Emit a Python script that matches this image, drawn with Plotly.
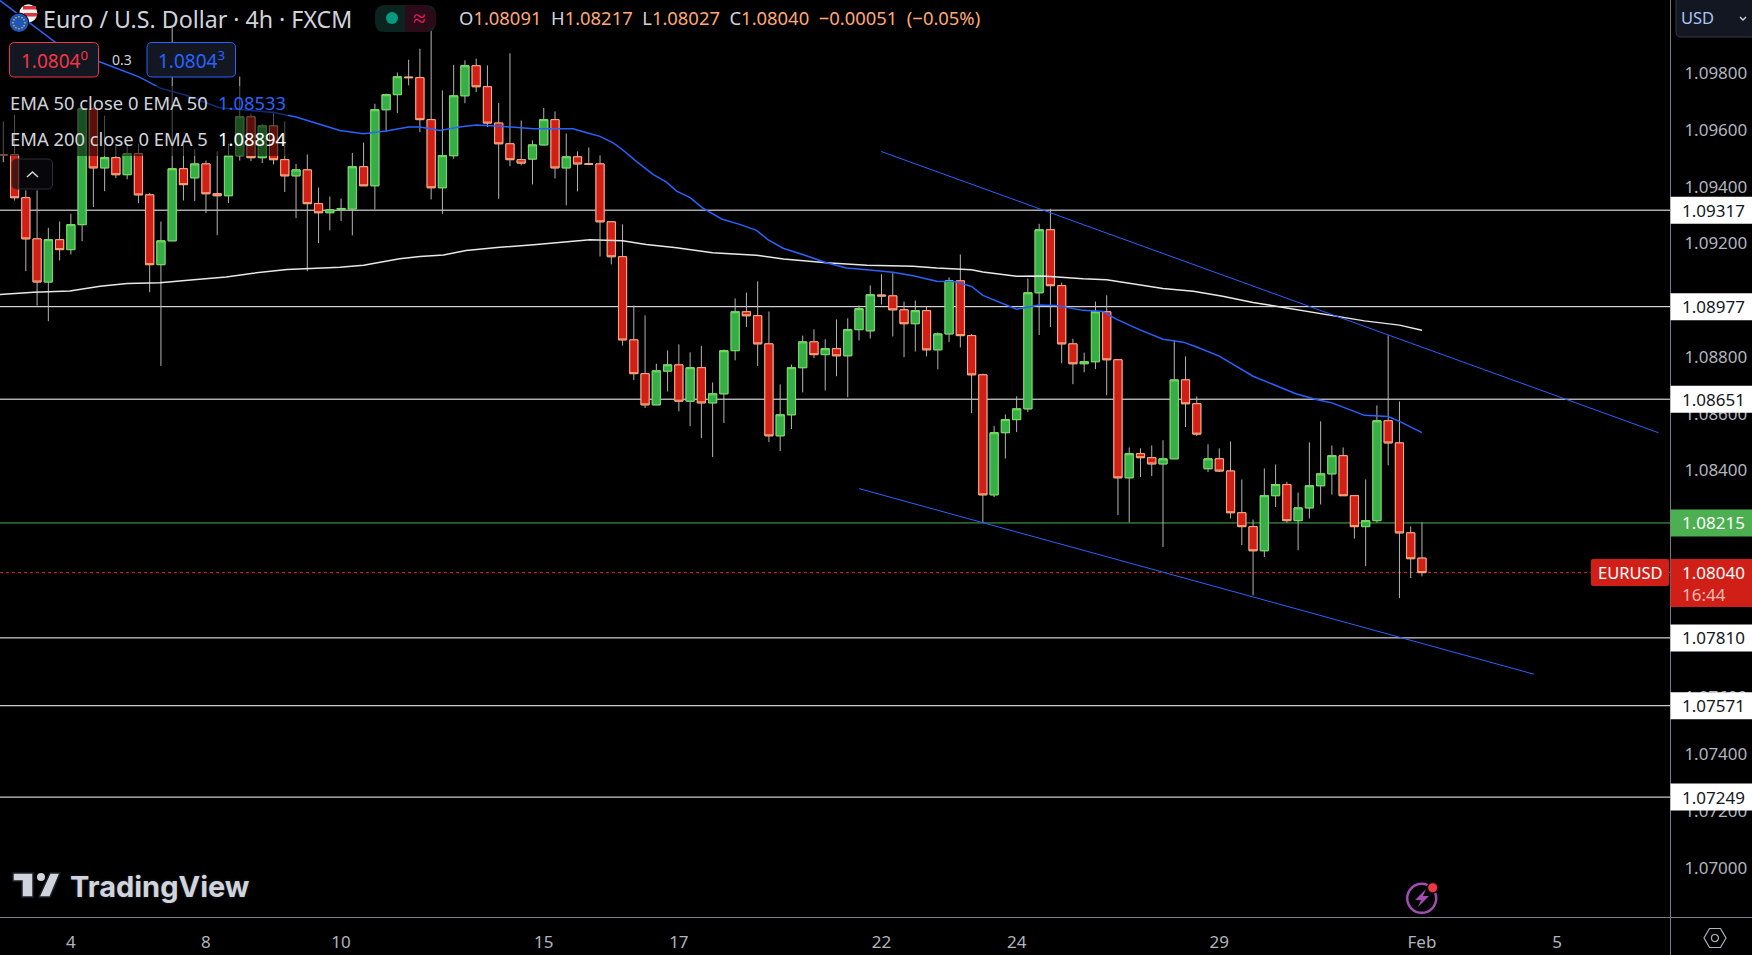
import plotly.graph_objects as go

opens = [1.09513,1.09512,1.09361,1.09216,1.09064,1.09213,1.09178,1.09266,1.09674,1.09466,1.09502,1.09442,1.09516,1.09371,1.09125,1.09209,1.09463,1.09431,1.09480,1.09375,
1.09368,1.09509,1.09646,1.09502,1.09614,1.09495,1.09438,1.09459,1.09340,1.09308,1.09320,1.09321,1.09470,1.09403,1.09671,1.09724,1.09786,1.09784,1.09636,1.09396,
1.09509,1.09720,1.09826,1.09752,1.09624,1.09551,1.09495,1.09497,1.09547,1.09636,1.09466,1.09505,1.09480,1.09480,1.09276,1.09153,1.08860,1.08741,1.08631,1.08750,
1.08772,1.08644,1.08762,1.08638,1.08670,1.08822,1.08959,1.08945,1.08846,1.08522,1.08596,1.08762,1.08853,1.08808,1.08829,1.08804,1.08896,1.08892,1.09018,1.09015,
1.08966,1.08917,1.08963,1.08825,1.08881,1.09068,1.08875,1.08737,1.08314,1.08533,1.08579,1.08617,1.09026,1.09248,1.09051,1.08846,1.08776,1.08783,1.08959,1.08790,
1.08374,1.08459,1.08445,1.08423,1.08441,1.08719,1.08635,1.08406,1.08441,1.08398,1.08251,1.08202,1.08117,1.08311,1.08350,1.08223,1.08268,1.08346,1.08388,1.08452,
1.08311,1.08202,1.08223,1.08575,1.08497,1.08180,1.08091]
highs = [1.09630,1.09653,1.09387,1.09387,1.09255,1.09277,1.09304,1.09680,1.09680,1.09650,1.09543,1.09551,1.09551,1.09378,1.09277,1.09962,1.09549,1.09531,1.09492,1.09524,
1.09551,1.09788,1.09657,1.09621,1.09665,1.09630,1.09480,1.09513,1.09397,1.09365,1.09358,1.09519,1.09555,1.09692,1.09728,1.09802,1.09847,1.09886,1.09991,1.09739,
1.09829,1.09845,1.09851,1.09827,1.09695,1.09870,1.09633,1.09563,1.09677,1.09665,1.09587,1.09524,1.09538,1.09510,1.09277,1.09267,1.08981,1.08946,1.08776,1.08823,
1.08844,1.08816,1.08839,1.08710,1.08826,1.09006,1.09027,1.09066,1.08960,1.08703,1.08773,1.08875,1.08897,1.08862,1.08932,1.08936,1.08981,1.09052,1.09091,1.09095,
1.08995,1.08999,1.08978,1.08886,1.09080,1.09161,1.08881,1.08741,1.08557,1.08597,1.08661,1.09076,1.09269,1.09322,1.09062,1.08864,1.08815,1.08995,1.09017,1.08790,
1.08481,1.08478,1.08488,1.08506,1.08858,1.08802,1.08661,1.08492,1.08478,1.08502,1.08368,1.08227,1.08407,1.08421,1.08360,1.08322,1.08499,1.08573,1.08488,1.08481,
1.08311,1.08368,1.08629,1.08876,1.08643,1.08203,1.08217]
lows = [1.09486,1.09351,1.09102,1.08981,1.08926,1.09140,1.09161,1.09208,1.09328,1.09384,1.09430,1.09426,1.09342,1.09028,1.08768,1.09209,1.09351,1.09349,1.09307,1.09229,
1.09342,1.09492,1.09490,1.09483,1.09478,1.09381,1.09289,1.09102,1.09201,1.09246,1.09279,1.09228,1.09403,1.09320,1.09594,1.09659,1.09757,1.09592,1.09355,1.09304,
1.09498,1.09694,1.09733,1.09610,1.09357,1.09472,1.09475,1.09408,1.09545,1.09429,1.09334,1.09383,1.09476,1.09154,1.09126,1.08840,1.08718,1.08620,1.08631,1.08678,
1.08608,1.08556,1.08514,1.08447,1.08567,1.08788,1.08905,1.08768,1.08500,1.08468,1.08546,1.08675,1.08796,1.08682,1.08732,1.08658,1.08858,1.08865,1.08985,1.08872,
1.08799,1.08819,1.08802,1.08756,1.08852,1.08833,1.08602,1.08216,1.08306,1.08442,1.08535,1.08606,1.08877,1.08905,1.08778,1.08704,1.08746,1.08757,1.08665,1.08243,
1.08217,1.08377,1.08380,1.08130,1.08441,1.08553,1.08521,1.08394,1.08394,1.08231,1.08137,1.07960,1.08095,1.08271,1.08216,1.08119,1.08231,1.08280,1.08315,1.08311,
1.08160,1.08063,1.08216,1.08418,1.07950,1.08021,1.08027]
closes = [1.09511,1.09361,1.09216,1.09064,1.09213,1.09178,1.09266,1.09674,1.09466,1.09502,1.09442,1.09516,1.09371,1.09125,1.09209,1.09463,1.09407,1.09480,1.09375,1.09368,
1.09509,1.09646,1.09502,1.09614,1.09495,1.09438,1.09459,1.09340,1.09308,1.09318,1.09323,1.09470,1.09403,1.09671,1.09724,1.09787,1.09784,1.09636,1.09396,1.09509,
1.09720,1.09826,1.09752,1.09624,1.09551,1.09495,1.09483,1.09547,1.09636,1.09466,1.09505,1.09480,1.09479,1.09276,1.09153,1.08860,1.08741,1.08631,1.08751,1.08772,
1.08644,1.08762,1.08638,1.08670,1.08822,1.08959,1.08945,1.08846,1.08522,1.08596,1.08762,1.08853,1.08808,1.08829,1.08804,1.08896,1.08970,1.09019,1.09015,1.08966,
1.08917,1.08963,1.08825,1.08881,1.09068,1.08875,1.08737,1.08314,1.08533,1.08579,1.08617,1.09026,1.09248,1.09051,1.08846,1.08776,1.08783,1.08959,1.08790,1.08374,
1.08459,1.08445,1.08423,1.08441,1.08719,1.08635,1.08528,1.08441,1.08398,1.08251,1.08202,1.08117,1.08311,1.08350,1.08223,1.08268,1.08346,1.08388,1.08452,1.08311,
1.08202,1.08223,1.08575,1.08497,1.08180,1.08089,1.08040]

ema50_bar = [-0.3,4.6,8.6,12.1,13.9,16.3,19.2,21,24,26,28.1,29.9,32,34,36,37,38.8,40.5,42,44.1,47.1,50.6,51.9,53,54.2,55,56.2,57.7,58.9,59.8,61,62.1,63.8,65.4,66.9,67.9,69.3,71,73.1,74.9,76.7,79,80.8,82.9,84.6,86,87,90,92,93.5,95.9,97.7,98.8,100.9,103,104.8,106,108,111,114.8,116.6,118,120.9,123,124,126]
ema50_val = [1.10056,1.09909,1.09839,1.09786,1.09748,1.09721,1.09678,1.09671,1.09661,1.09645,1.09621,1.09598,1.09586,1.09596,1.09610,1.09610,1.09598,1.09610,1.09617,1.09613,1.09604,1.09604,1.09589,1.09577,1.09553,1.09530,1.09490,1.09443,1.09416,1.09384,1.09361,1.09325,1.09286,1.09267,1.09246,1.09213,1.09182,1.09161,1.09132,1.09113,1.09107,1.09098,1.09086,1.09067,1.09065,1.09048,1.09017,1.08968,1.08983,1.08981,1.08964,1.08960,1.08934,1.08896,1.08862,1.08852,1.08835,1.08803,1.08732,1.08670,1.08650,1.08638,1.08594,1.08590,1.08573,1.08533]
ema200_bar = [-0.3,2.7,5.9,8.6,11,13.9,16.9,19.8,22.2,25.2,29.9,32,35.2,37,39.1,41.1,44.1,47.1,52.1,55,57.1,59.8,63,66.9,69.3,73.1,76.7,80.8,82.9,86,87,90,92.3,95.9,98,103,105.7,108.3,111,113,116.6,118,120.9,124,126]
ema200_val = [1.09020,1.09028,1.09032,1.09049,1.09059,1.09061,1.09072,1.09082,1.09095,1.09108,1.09116,1.09123,1.09146,1.09154,1.09159,1.09175,1.09186,1.09195,1.09213,1.09209,1.09196,1.09185,1.09167,1.09158,1.09145,1.09132,1.09123,1.09119,1.09113,1.09107,1.09099,1.09084,1.09085,1.09075,1.09072,1.09041,1.09031,1.09014,1.08992,1.08979,1.08954,1.08946,1.08927,1.08912,1.08894]

upper_bar, upper_val = [77.95,147.0],[1.09524,1.08533]
lower_bar, lower_val = [76.0,135.95],[1.08336,1.07682]

white_levels = [1.09317,1.08977,1.08651,1.07810,1.07571,1.07249]
support_level = 1.08215
last_price = 1.08040
price_ticks = [1.070,1.072,1.074,1.076,1.078,1.080,1.082,1.084,1.086,1.088,1.090,1.092,1.094,1.096,1.098]
date_bars = [6,18,30,48,60,78,90,108,126,138]
date_labels = ["4","8","10","15","17","22","24","29","Feb","5"]

W,H = 1752,955
AX_X,AX_Y = 1670,917
Y0 = 73.1   # pixel row of the 1.098 level
FONT = "Noto Sans"
px = lambda x: x/W
py = lambda y: 1-y/H
row = lambda p: Y0+(1.098-p)*28381

def rrect(x0,y0,x1,y1,r,fill,line=None,lw=1):
    p = (f"M {px(x0+r)} {py(y0)} L {px(x1-r)} {py(y0)} Q {px(x1)} {py(y0)} {px(x1)} {py(y0+r)} "
         f"L {px(x1)} {py(y1-r)} Q {px(x1)} {py(y1)} {px(x1-r)} {py(y1)} L {px(x0+r)} {py(y1)} "
         f"Q {px(x0)} {py(y1)} {px(x0)} {py(y1-r)} L {px(x0)} {py(y0+r)} Q {px(x0)} {py(y0)} {px(x0+r)} {py(y0)} Z")
    return dict(type="path",xref="paper",yref="paper",path=p,fillcolor=fill,
                line=dict(color=line or "rgba(0,0,0,0)",width=lw if line else 0),layer="above")
def rect(x0,y0,x1,y1,fill):
    return dict(type="rect",xref="paper",yref="paper",x0=px(x0),x1=px(x1),y0=py(y0),y1=py(y1),
                fillcolor=fill,line=dict(width=0),layer="above")
def circ(cx,cy,r,fill,line=None,lw=1):
    return dict(type="circle",xref="paper",yref="paper",x0=px(cx-r),x1=px(cx+r),y0=py(cy-r),y1=py(cy+r),
                fillcolor=fill,line=dict(color=line or "rgba(0,0,0,0)",width=lw if line else 0),layer="above")
def poly(pts,fill=None,line=None,lw=1,close=True):
    p = "M "+" L ".join(f"{px(x)} {py(y)}" for x,y in pts)+(" Z" if close else "")
    return dict(type="path",xref="paper",yref="paper",path=p,fillcolor=fill or "rgba(0,0,0,0)",
                line=dict(color=line or "rgba(0,0,0,0)",width=lw if line else 0),layer="above")
def txt(x,y,s,size,color,anchor="left",font=FONT,**kw):
    return dict(xref="paper",yref="paper",x=px(x),y=py(y),text=s,showarrow=False,xanchor=anchor,yanchor="middle",
                font=dict(size=size,color=color,family=font,**kw),borderpad=0,borderwidth=0)

fig = go.Figure()
bars = list(range(len(opens)))
fig.add_trace(go.Scatter(x=ema200_bar,y=ema200_val,mode="lines",line=dict(color="#e8e8e8",width=1.5),hoverinfo="skip"))
fig.add_trace(go.Scatter(x=ema50_bar,y=ema50_val,mode="lines",line=dict(color="#2962ff",width=1.5),hoverinfo="skip"))
fig.add_trace(go.Scatter(x=upper_bar,y=upper_val,mode="lines",line=dict(color="#2962ff",width=1),hoverinfo="skip"))
fig.add_trace(go.Scatter(x=lower_bar,y=lower_val,mode="lines",line=dict(color="#2962ff",width=1),hoverinfo="skip"))
fig.add_trace(go.Candlestick(x=bars,open=opens,high=highs,low=lows,close=closes,whiskerwidth=0,
    increasing=dict(line=dict(color="#b4b4b4",width=1),fillcolor="#37ad48"),
    decreasing=dict(line=dict(color="#b4b4b4",width=1),fillcolor="#d01f17"),hoverinfo="skip"))
fig.add_trace(go.Candlestick(x=bars,open=opens,close=closes,
    high=[max(o,c) for o,c in zip(opens,closes)],low=[min(o,c) for o,c in zip(opens,closes)],whiskerwidth=0,
    increasing=dict(line=dict(color="#74e05c",width=1),fillcolor="#37ad48"),
    decreasing=dict(line=dict(color="#ffaa7c",width=1),fillcolor="#d01f17"),hoverinfo="skip"))

shapes = []
for lv in white_levels:
    shapes.append(dict(type="line",xref="x domain",yref="y",x0=0,x1=1,y0=lv,y1=lv,line=dict(color="#ffffff",width=1),layer="below"))
shapes.append(dict(type="line",xref="x domain",yref="y",x0=0,x1=1,y0=support_level,y1=support_level,line=dict(color="#4caf50",width=1),layer="below"))
shapes.append(dict(type="line",xref="x domain",yref="y",x0=0,x1=1,y0=last_price,y1=last_price,line=dict(color="#e0241c",width=1,dash="dot"),layer="below"))

shapes.append(rect(0,86,288,156,"rgba(0,0,0,0.55)"))
shapes.append(rect(AX_X,0,AX_X+1,H,"#787b86"))
shapes.append(rect(0,AX_Y,W,AX_Y+1,"#787b86"))
# flags
shapes += [circ(28.3,13.3,9,"#f0f0f0"),poly([(23,6),(36,6),(36,9.5),(23,9.5)],"#d8343c"),poly([(24,13),(37,13),(37,16.5),(24,16.5)],"#d8343c"),
           circ(19,22.7,10.2,"#000000"),circ(19,22.7,9.3,"#1f57b8")]
for dx,dy in [(0,-6),(3,-5),(5,-3),(6,0),(5,3),(3,5),(0,6),(-3,5),(-5,3),(-6,0),(-5,-3),(-3,-5)]:
    shapes.append(circ(19+dx,22.7+dy,0.8,"#f5c542"))
# status pill
shapes.append(rrect(375,5,436,32,10,"#0b2420"))
shapes.append(poly([(405,5),(426,5),(436,12),(436,25),(426,32),(405,32)],"#2c0b18"))
shapes.append(circ(392,18,6,"#089981"))
# price boxes
shapes.append(rrect(9.5,42.5,98.5,77,5,"#131722","#f23645"))
shapes.append(rrect(147,42.5,235.5,77,5,"#131722","#2962ff"))
# collapse button
shapes.append(rrect(12,159,52.5,189,5,"rgba(10,10,14,0.65)","#2a2e39"))
shapes.append(poly([(27,177),(32.5,172),(38,177)],None,"#d1d4dc",1.6,False))
# currency button
shapes.append(rrect(1676,-4,1756,37,5,"#131722","#363a45"))
shapes.append(poly([(1740,17),(1743,20),(1746,17)],None,"#d1d4dc",1.4,False))
# level tags
for lv in white_levels:
    yy = row(lv)
    shapes.append(rect(AX_X+0.5,yy-13.5,W,yy+13.5,"#ffffff"))
yg = row(support_level)
shapes.append(rect(AX_X+0.5,yg-13.5,W,yg+13.5,"#4caf50"))
shapes.append(rect(AX_X+0.5,559,W,607,"#d01f17"))
shapes.append(rrect(1591,559,1669,586,2,"#d01f17"))
# TradingView mark
shapes += [poly([(13,873),(33,873),(33,897),(22,897),(22,881),(13,881)],"#d1d4dc","#1e222d",1.5),
           circ(41,877,4,"#d1d4dc"),poly([(50,873),(60,873),(50,897),(39,897)],"#d1d4dc","#1e222d",1.5)]
# lightning badge
shapes.append(circ(1421.7,898.3,14.5,"rgba(0,0,0,0)","#a14db4",2.5))
shapes.append(poly([(1426,889),(1415,900),(1421,900),(1418,907),(1429,896),(1423,896)],"#a14db4",None))
shapes.append(circ(1432.7,887.7,6,"#141414"))
shapes.append(circ(1432.7,887.7,4.5,"#f23645"))
# settings hexagon
shapes.append(poly([(1704,938),(1709.5,928.5),(1720.5,928.5),(1726,938),(1720.5,947.5),(1709.5,947.5)],None,"#b2b5be",1.2))
shapes.append(circ(1715,938,3.5,"rgba(0,0,0,0)","#b2b5be",1.2))

ORANGE = "#ffa877"
GREY = "#d1d4dc"
def ohl(k,v): return f'<span style="color:{GREY}">{k}</span>{v}'
ann = [
 txt(43,19,"Euro / U.S. Dollar · 4h · FXCM",23.2,"#d1d4dc"),
 txt(419,17,"≈",23,"#e91e63","center"),
 txt(459,18,"&nbsp;&nbsp;".join([ohl("O","1.08091"),ohl("H","1.08217"),ohl("L","1.08027"),ohl("C","1.08040"),"−0.00051","(−0.05%)"]),18.4,ORANGE),
 txt(54,60,'1.0804<sup>0</sup>',19,"#f23645","center"),
 txt(122,60,"0.3",14,"#d1d4dc","center"),
 txt(191,60,'1.0804<sup>3</sup>',19,"#2962ff","center"),
 txt(10,102,"EMA 50 close 0 EMA 50",18.4,"#d1d4dc"),
 txt(218,102,"1.08533",18.4,"#2962ff"),
 txt(10,138,"EMA 200 close 0 EMA 5",18.4,"#d1d4dc"),
 txt(218,138,"1.08894",18.4,"#ffffff"),
 txt(1681,18,"USD",16.5,"#a9c5f0"),
 txt(70,886,"<b>TradingView</b>",29,"#d1d4dc","left","Inter",shadow="0 0 3px #2a2e39"),
]
for lv in white_levels:
    ann.append(txt(1682,row(lv),f"{lv:.5f}",17,"#131722"))
ann.append(txt(1682,yg,f"{support_level:.5f}",17,"#ffffff"))
ann.append(txt(1682,572.5,f"{last_price:.5f}",17,"#ffffff"))
ann.append(txt(1682,594,"16:44",17,"#f0b9b5"))
ann.append(txt(1630,572.5,"EURUSD",16.5,"#ffffff","center"))

fig.update_layout(
    width=W,height=H,margin=dict(l=0,r=0,t=0,b=0),autosize=False,
    paper_bgcolor="#000000",plot_bgcolor="#000000",showlegend=False,
    boxgap=0.15,boxgroupgap=0.15,
    shapes=shapes,annotations=ann,
    font=dict(family=FONT,color="#b2b5be",size=17),
    xaxis=dict(domain=[0,AX_X/W],range=[-0.293,148.03],tickmode="array",tickvals=date_bars,ticktext=date_labels,
               showgrid=False,zeroline=False,showline=False,rangeslider=dict(visible=False),
               ticks="outside",ticklen=10,tickcolor="#000000",tickfont=dict(size=17,color="#b2b5be"),anchor="y",fixedrange=True),
    yaxis=dict(domain=[1-AX_Y/H,1],range=[1.098-(AX_Y-Y0)/28381,1.098+Y0/28381],side="right",tickmode="array",
               tickvals=price_ticks,ticktext=[f"{t:.5f}" for t in price_ticks],showgrid=False,zeroline=False,showline=False,
               ticks="outside",ticklen=10,tickcolor="#000000",tickfont=dict(size=17,color="#b2b5be"),anchor="x",fixedrange=True),
)
fig.write_html("out.html",config=dict(displayModeBar=False),
               post_script="document.body.style.margin='0';document.documentElement.style.background='#000';document.body.style.overflow='hidden';")
